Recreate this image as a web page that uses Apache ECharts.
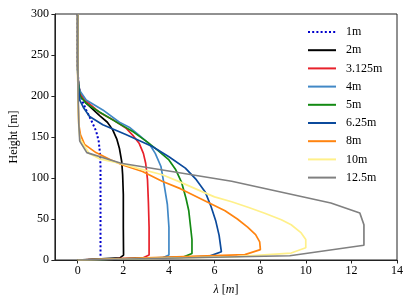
<!DOCTYPE html>
<html>
<head>
<meta charset="utf-8">
<script src="https://cdn.jsdelivr.net/npm/echarts@6/dist/echarts.min.js"></script>
<style>html,body{margin:0;padding:0;background:#fff}#c{width:407px;height:305px}</style>
</head>
<body>
<div id="c"></div>
<script>
// Series names (legend labels)
var names = ['1m', '2m', '3.125m', '4m', '5m', '6.25m', '8m', '10m', '12.5m'];
// Tick labels
var xTicks = [0, 2, 4, 6, 8, 10, 12, 14];
var yTicks = [0, 50, 100, 150, 200, 250, 300];
// Profiles: [lambda (m), height (m)]
var s1m = [[0,300],[0,235],[0.03,215],[0.1,203],[0.2,194],[0.37,183],[0.6,170],[0.81,157],[0.92,145],[0.97,132],[1.0,115],[1.0,80],[1.0,0]];
var s2m = [[0,300],[0,235],[0.03,215],[0.1,203],[0.35,192],[0.96,176],[1.3,168],[1.53,159],[1.72,147],[1.83,136],[1.93,120],[1.97,104],[2.0,80],[2.0,40],[2.01,6],[1.85,2.5],[0,0]];
var s3m = [[0,300],[0,235],[0.03,215],[0.1,205],[0.23,197],[0.96,180],[1.6,170],[2.11,161],[2.45,151],[2.7,142],[2.88,130],[2.98,118],[3.06,98],[3.1,70],[3.13,40],[3.13,6],[2.85,2.5],[0,0]];
var s4m = [[0,300],[0,233],[0.03,215],[0.1,206],[0.37,195],[1.1,183],[1.83,168],[2.26,162],[2.7,152],[3.13,142],[3.4,130],[3.65,114],[3.8,90],[3.93,68],[4.0,40],[4.0,6],[3.7,2.5],[0,0]];
var s5m = [[0,300],[0,230],[0.03,215],[0.1,200],[0.37,191],[0.81,183],[1.83,166],[2.45,156],[3.0,145],[3.5,134],[4.0,122],[4.3,110],[4.55,95],[4.75,75],[4.87,60],[4.95,40],[5.01,25],[5.01,8],[4.6,3.2],[0,0]];
var s6m = [[0,300],[0,228],[0.03,212],[0.09,195],[0.25,186],[0.52,175],[1.1,165],[2.11,153],[3.27,138.5],[4.0,126],[4.72,112],[5.2,98],[5.59,83],[5.85,65],[6.05,48],[6.2,30],[6.3,10],[5.75,4.4],[0,0]];
var s8m = [[0,300],[0,225],[0.02,190],[0.05,165],[0.12,153],[0.3,141],[0.8,131],[1.46,122],[2.0,115.5],[2.84,108],[3.7,96],[4.5,87],[5.59,72],[6.46,60],[7.0,50],[7.45,40],[7.8,31],[7.98,22],[8.01,12.6],[7.33,6.5],[0,0]];
var s10m = [[0,300],[0,225],[0.02,190],[0.05,160],[0.1,148],[0.5,130],[1.0,123],[1.83,118],[2.6,112],[3.71,104],[4.5,95],[5.4,84],[6.0,77],[6.75,71],[7.5,64],[8.2,57],[8.93,49],[9.36,43],[9.8,33],[10.0,25],[10.0,15],[9.36,8.5],[7,4],[0,0]];
var s12m = [[0,300],[0,250],[0.02,200],[0.05,165],[0.09,145],[0.4,131],[1.9,118],[6.75,96],[11.1,69.5],[12.37,57.3],[12.55,43],[12.55,18],[9.3,5.2],[0,0]];

var dataList = [s1m, s2m, s3m, s4m, s5m, s6m, s8m, s10m, s12m];
var colors = ['#0000cc', '#000000', '#e8212b', '#4188c6', '#138a13', '#0b4a9c', '#ff8410', '#fff08a', '#808080'];

var serif = 'Liberation Serif';
var series = dataList.map(function (d, i) {
  return {
    name: names[i],
    type: 'line',
    data: d,
    symbol: 'none',
    smooth: false,
    animation: false,
    lineStyle: {
      color: colors[i],
      width: i === 0 ? 2 : 1.7,
      type: i === 0 ? [2, 2.2] : 'solid'
    },
    itemStyle: { color: colors[i] }
  };
});

var chart = echarts.init(document.getElementById('c'), null, { renderer: 'canvas' });
chart.setOption({
  animation: false,
  grid: { left: 52, top: 14, width: 345, height: 246, show: true, borderColor: '#222', borderWidth: 1, backgroundColor: 'transparent' },
  legend: {
    orient: 'vertical',
    left: 302,
    top: 21,
    itemWidth: 28,
    itemHeight: 12,
    itemGap: 6.2,
    data: names,
    itemStyle: { color: 'transparent', borderWidth: 0, opacity: 0 },
    textStyle: { fontFamily: serif, fontSize: 12, color: '#000', padding: [0, 0, 0, 5] }
  },
  xAxis: {
    type: 'value',
    min: -1,
    max: 14,
    splitLine: { show: false },
    axisLine: { show: true, onZero: false, lineStyle: { color: '#222', width: 1 } },
    axisTick: { show: true, inside: false, length: 3.5, lineStyle: { color: '#222' }, customValues: xTicks },
    axisLabel: { customValues: xTicks, fontFamily: serif, fontSize: 12, color: '#000', margin: 5 },
    name: '{i|λ} [{i|m}]',
    nameLocation: 'middle',
    nameGap: 24,
    nameTextStyle: { fontFamily: serif, fontSize: 12, color: '#000', rich: { i: { fontFamily: serif, fontStyle: 'italic', fontSize: 12, color: '#000' } } }
  },
  yAxis: {
    type: 'value',
    min: 0,
    max: 300,
    interval: 50,
    splitLine: { show: false },
    axisLine: { show: true, onZero: false, lineStyle: { color: '#222', width: 1 } },
    axisTick: { show: true, inside: false, length: 3.5, lineStyle: { color: '#222' }, customValues: yTicks },
    axisLabel: { customValues: yTicks, fontFamily: serif, fontSize: 12, color: '#000', margin: 6 },
    name: 'Height [m]',
    nameLocation: 'middle',
    nameGap: 33,
    nameTextStyle: { fontFamily: serif, fontSize: 12, color: '#000' }
  },
  series: series
});
</script>
</body>
</html>
